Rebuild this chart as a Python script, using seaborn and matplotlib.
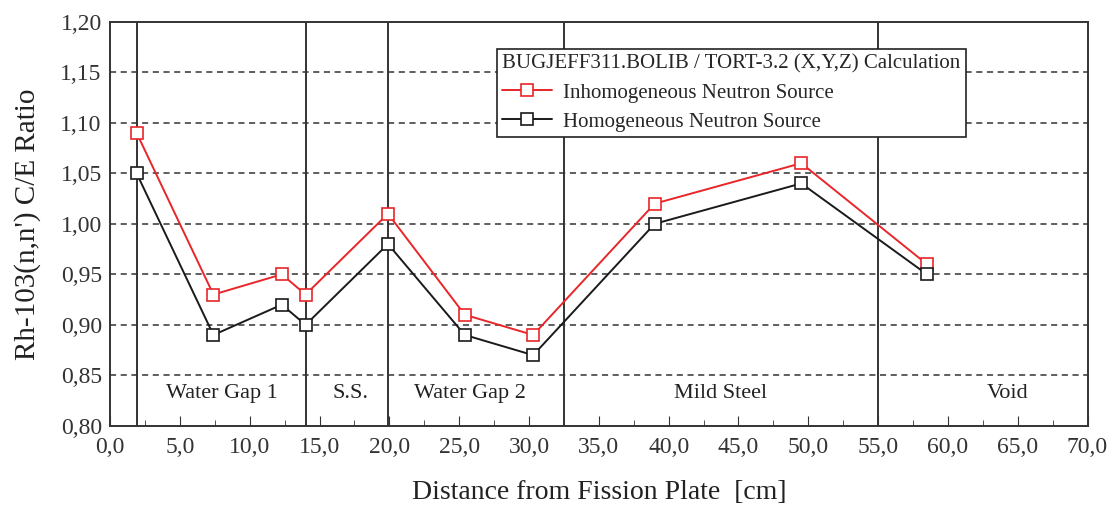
import matplotlib
matplotlib.use("Agg")
import matplotlib.pyplot as plt
from matplotlib.ticker import MultipleLocator, FuncFormatter
import pandas as pd
import seaborn as sns

# data
distance = [1.9, 7.4, 12.3, 14.0, 19.9, 25.4, 30.3, 39.0, 49.5, 58.5]
inhomogeneous = [1.09, 0.93, 0.95, 0.93, 1.01, 0.91, 0.89, 1.02, 1.06, 0.96]
homogeneous = [1.05, 0.89, 0.92, 0.90, 0.98, 0.89, 0.87, 1.00, 1.04, 0.95]
series_names = ["Inhomogeneous Neutron Source", "Homogeneous Neutron Source"]
legend_title = "BUGJEFF311.BOLIB / TORT-3.2 (X,Y,Z) Calculation"

region_bounds = [1.9, 14.0, 19.9, 32.5, 55.0]
region_names = ["Water Gap 1", "S.S.", "Water Gap 2", "Mild Steel", "Void"]
region_centers = [8.0, 17.2, 25.8, 43.7, 64.3]

df = pd.DataFrame({
    "x": distance * 2,
    "y": inhomogeneous + homogeneous,
    "series": [series_names[0]] * len(distance) + [series_names[1]] * len(distance),
})

sns.set_style("ticks")
plt.rcParams["font.family"] = ["Liberation Serif", "DejaVu Serif"]

fig = plt.figure(figsize=(11.12, 5.07), dpi=100)
ax = fig.add_axes([0.099, 0.160, 0.879, 0.797])

# horizontal dashed grid
for yv in [0.85, 0.90, 0.95, 1.00, 1.05, 1.10, 1.15]:
    ax.axhline(yv, color="#333333", lw=1.1, ls=(0, (4, 3)), zorder=1)

# region boundaries
for xb in region_bounds:
    ax.axvline(xb, color="#333333", lw=1.4, zorder=1)
for xc, name in zip(region_centers, region_names):
    ax.text(xc, 0.832, name, ha="center", va="center", fontsize=16, color="#222222")

sns.lineplot(data=df, x="x", y="y", hue="series", palette=["#e8262a", "#1a1a1a"],
             marker="s", markersize=9, markerfacecolor="white",
             markeredgewidth=1.2, lw=1.4, ax=ax, zorder=3, legend=False)
for ln in ax.lines[-2:]:
    ln.set_markeredgecolor(ln.get_color())

ax.set_xlim(0, 70)
ax.set_ylim(0.80, 1.20)
ax.xaxis.set_major_locator(MultipleLocator(5))
ax.xaxis.set_minor_locator(MultipleLocator(2.5))
ax.yaxis.set_major_locator(MultipleLocator(0.05))
comma = lambda fmt: FuncFormatter(lambda v, p: (fmt % v).replace(".", ","))
ax.xaxis.set_major_formatter(comma("%.1f"))
ax.yaxis.set_major_formatter(comma("%.2f"))
ax.tick_params(axis="both", which="both", direction="in", labelsize=17, colors="#333333")
ax.tick_params(axis="x", which="major", length=7, pad=8)
ax.tick_params(axis="x", which="minor", length=4)
ax.tick_params(axis="y", length=0, pad=6)
for s in ax.spines.values():
    s.set_color("#333333")
    s.set_linewidth(1.4)

ax.set_xlabel("Distance from Fission Plate  [cm]", fontsize=20, color="#222222", labelpad=16)
ax.set_ylabel("Rh-103(n,n') C/E Ratio", fontsize=21, color="#222222", labelpad=14)

leg = ax.legend(ax.lines[-2:], series_names, title=legend_title, loc="upper left",
                bbox_to_anchor=(0.396, 0.932), borderaxespad=0, fontsize=15,
                title_fontsize=15, frameon=True, fancybox=False, edgecolor="#222222",
                framealpha=1, handlelength=2.4, handletextpad=0.5,
                borderpad=0.25, labelspacing=0.45)
leg.get_frame().set_linewidth(1.2)
leg._legend_box.align = "left"

fig.savefig("out.png", dpi=100)
